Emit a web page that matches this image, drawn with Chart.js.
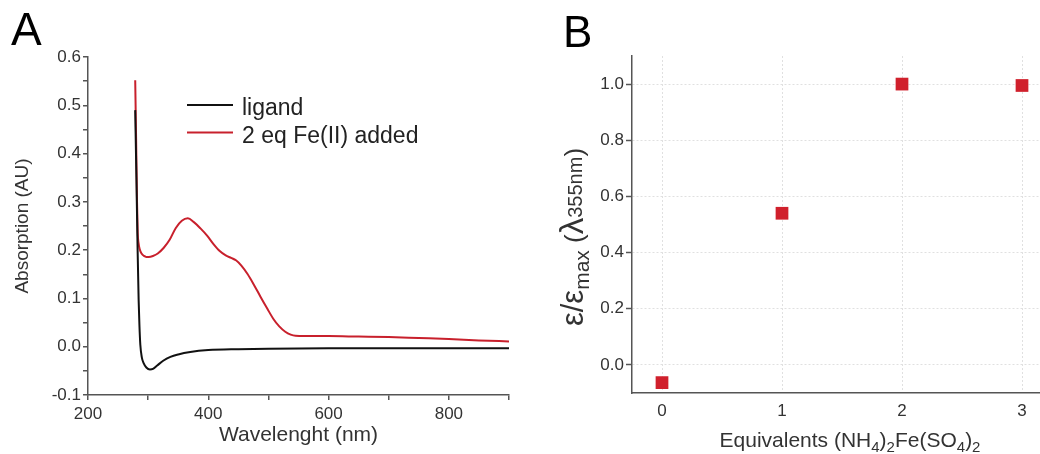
<!DOCTYPE html>
<html>
<head>
<meta charset="utf-8">
<script src="https://cdn.jsdelivr.net/npm/chart.js@4.4.0/dist/chart.umd.min.js"></script>
<style>
  body { margin: 0; background: #fff; }
  .panel { position: absolute; top: 0; width: 520px; height: 454px; }
  #panelA { left: 0; }
  #panelB { left: 520px; }
</style>
</head>
<body>
<div class="panel" id="panelA"><canvas id="spectrum" width="520" height="454"></canvas></div>
<div class="panel" id="panelB"><canvas id="titration" width="520" height="454"></canvas></div>
<script>
// panel A - UV/vis spectra
const ligandWl  = [278.5, 280.5, 282.5, 284.2, 285.5, 287, 289.5, 292.5, 297, 303, 308, 315, 325, 337, 350, 370, 400, 450, 500, 600, 700, 800, 900];
const ligandAbs = [0.49, 0.35, 0.20, 0.097, 0.045, 0.004, -0.022, -0.034, -0.043, -0.047, -0.046, -0.039, -0.029, -0.021, -0.016, -0.011, -0.007, -0.005, -0.004, -0.003, -0.003, -0.003, -0.003];

const feWl  = [278.5, 280, 281.5, 282.7, 284, 286, 289, 293, 297, 301, 308, 316, 326, 336, 346, 356, 366, 376, 387, 398, 409, 419, 429, 438, 446, 455, 465, 476, 487, 498, 508, 518, 528, 537, 545, 560, 600, 650, 700, 750, 800, 850, 900];
const feAbs = [0.552, 0.43, 0.30, 0.235, 0.215, 0.202, 0.193, 0.188, 0.186, 0.186, 0.188, 0.193, 0.205, 0.222, 0.246, 0.261, 0.266, 0.258, 0.245, 0.230, 0.212, 0.198, 0.189, 0.184, 0.179, 0.168, 0.151, 0.128, 0.103, 0.079, 0.058, 0.042, 0.031, 0.025, 0.0225, 0.022, 0.022, 0.021, 0.020, 0.018, 0.016, 0.013, 0.011];

const wlTicks  = [200, 300, 400, 500, 600, 700, 800, 900];
const absTicks = [-0.1, -0.05, 0.0, 0.05, 0.1, 0.15, 0.2, 0.25, 0.3, 0.35, 0.4, 0.45, 0.5, 0.55, 0.6];

// panel B - titration at 355 nm
const equivalents = [0, 1, 2, 3];
const epsRatio    = [-0.063, 0.54, 1.0, 0.995];
const ratioTicks  = [0.0, 0.2, 0.4, 0.6, 0.8, 1.0];

const FONT = "'Liberation Sans', Arial, sans-serif";
Chart.defaults.font.family = FONT;
Chart.defaults.color = '#333';

function drawRich(ctx, parts, x, y) {
  let total = 0;
  parts.forEach(p => {
    ctx.font = p.size + 'px ' + FONT;
    p.w = ctx.measureText(p.text).width;
    total += p.w;
  });
  let cx = x - total / 2;
  ctx.textAlign = 'left';
  ctx.textBaseline = 'alphabetic';
  parts.forEach(p => {
    ctx.font = p.size + 'px ' + FONT;
    ctx.fillText(p.text, cx, y + (p.dy || 0));
    cx += p.w;
  });
}

const panelDecor = {
  id: 'panelDecor',
  afterDraw(chart, args, opts) {
    const ctx = chart.ctx;
    ctx.save();
    ctx.fillStyle = '#000';
    ctx.font = opts.letterSize + 'px ' + FONT;
    ctx.textAlign = 'left';
    ctx.textBaseline = 'alphabetic';
    ctx.fillText(opts.letter, opts.letterX, opts.letterY);

    if (opts.legend) {
      const lg = opts.legend;
      chart.data.datasets.forEach((ds, i) => {
        const y = lg.y + i * lg.gap;
        ctx.strokeStyle = ds.borderColor;
        ctx.lineWidth = 2;
        ctx.beginPath();
        ctx.moveTo(lg.x, y);
        ctx.lineTo(lg.x + lg.len, y);
        ctx.stroke();
        ctx.fillStyle = '#222';
        ctx.font = lg.size + 'px ' + FONT;
        ctx.fillText(ds.label, lg.x + lg.len + 9, y + 10);
      });
    }

    if (opts.xTitle) {
      ctx.fillStyle = '#333';
      drawRich(ctx, opts.xTitle.parts, opts.xTitle.x, opts.xTitle.y);
    }
    if (opts.yTitle) {
      ctx.fillStyle = '#333';
      ctx.translate(opts.yTitle.x, opts.yTitle.y);
      ctx.rotate(-Math.PI / 2);
      drawRich(ctx, opts.yTitle.parts, 0, 0);
    }
    ctx.restore();
  }
};

new Chart(document.getElementById('spectrum'), {
  type: 'line',
  data: {
    datasets: [
      {
        label: 'ligand',
        data: ligandWl.map((x, i) => ({ x: x, y: ligandAbs[i] })),
        borderColor: '#111',
        borderWidth: 2,
        pointRadius: 0,
        cubicInterpolationMode: 'monotone'
      },
      {
        label: '2 eq Fe(II) added',
        data: feWl.map((x, i) => ({ x: x, y: feAbs[i] })),
        borderColor: '#c8202c',
        borderWidth: 2,
        pointRadius: 0,
        cubicInterpolationMode: 'monotone'
      }
    ]
  },
  options: {
    responsive: false,
    animation: false,
    layout: { autoPadding: false, padding: { top: 57, right: 11, left: 0, bottom: 0 } },
    plugins: {
      legend: { display: false },
      tooltip: { enabled: false },
      panelDecor: {
        letter: 'A', letterSize: 46, letterX: 11, letterY: 45,
        legend: { x: 187, y: 105, gap: 27.5, len: 46, size: 23 }
      }
    },
    scales: {
      x: {
        type: 'linear',
        min: 200,
        max: 900,
        afterBuildTicks: axis => { axis.ticks = wlTicks.map(v => ({ value: v })); },
        afterFit: axis => { axis.height = 59; },
        ticks: {
          autoSkip: false,
          maxRotation: 0,
          padding: 4,
          font: { size: 17 },
          callback: v => (v % 200 === 0 ? v : '')
        },
        grid: { drawOnChartArea: false, tickLength: 5, color: '#555', lineWidth: 1.5 },
        border: { color: '#555', width: 1.5 },
        title: { display: true, text: 'Wavelenght (nm)', font: { size: 21 }, padding: { top: 0, bottom: 6 } }
      },
      y: {
        min: -0.1,
        max: 0.6,
        afterBuildTicks: axis => { axis.ticks = absTicks.map(v => ({ value: v })); },
        afterFit: axis => { axis.width = 88; },
        ticks: {
          autoSkip: false,
          padding: 2,
          font: { size: 17 },
          callback: v => (Math.round(v * 20) % 2 === 0 ? v.toFixed(1) : '')
        },
        grid: { drawOnChartArea: false, tickLength: 5, color: '#555', lineWidth: 1.5 },
        border: { color: '#555', width: 1.5 },
        title: { display: true, text: 'Absorption (AU)', font: { size: 19 }, padding: { top: 11, bottom: 0 } }
      }
    }
  },
  plugins: [panelDecor]
});

new Chart(document.getElementById('titration'), {
  type: 'scatter',
  data: {
    datasets: [{
      label: 'ε/εmax',
      data: equivalents.map((x, i) => ({ x: x, y: epsRatio[i] })),
      pointStyle: 'rect',
      pointRadius: 9,
      backgroundColor: '#d0202c',
      borderWidth: 0
    }]
  },
  options: {
    responsive: false,
    animation: false,
    layout: { autoPadding: false, padding: { top: 56, right: 0, left: 0, bottom: 0 } },
    plugins: {
      legend: { display: false },
      tooltip: { enabled: false },
      panelDecor: {
        letter: 'B', letterSize: 44, letterX: 43, letterY: 47,
        xTitle: {
          x: 330, y: 447,
          parts: [
            { text: 'Equivalents (NH', size: 21 },
            { text: '4', size: 15, dy: 5 },
            { text: ')', size: 21 },
            { text: '2', size: 15, dy: 5 },
            { text: 'Fe(SO', size: 21 },
            { text: '4', size: 15, dy: 5 },
            { text: ')', size: 21 },
            { text: '2', size: 15, dy: 5 }
          ]
        },
        yTitle: {
          x: 63, y: 237,
          parts: [
            { text: 'ε/ε', size: 31 },
            { text: 'max', size: 21, dy: 6 },
            { text: ' (', size: 26 },
            { text: 'λ', size: 33 },
            { text: '355nm', size: 20, dy: -1 },
            { text: ')', size: 26 }
          ]
        }
      }
    },
    scales: {
      x: {
        type: 'linear',
        min: -0.25,
        max: 3.15,
        afterBuildTicks: axis => { axis.ticks = equivalents.map(v => ({ value: v })); },
        afterFit: axis => {
          axis.height = 61;
          axis.paddingLeft = 0;
          axis.paddingRight = 0;
        },
        ticks: { padding: 8, font: { size: 17 }, maxRotation: 0 },
        grid: { color: '#e0e0e0', lineWidth: 1, drawTicks: false },
        border: { color: '#555', width: 1.5, dash: [2, 2] }
      },
      y: {
        min: -0.1,
        max: 1.1,
        afterBuildTicks: axis => { axis.ticks = ratioTicks.map(v => ({ value: v })); },
        afterFit: axis => { axis.width = 112; },
        ticks: { padding: 2, font: { size: 17 }, callback: v => v.toFixed(1) },
        grid: { color: '#e0e0e0', lineWidth: 1, tickColor: '#555', tickLength: 6, tickWidth: 1.5 },
        border: { color: '#555', width: 1.5, dash: [2, 2] }
      }
    }
  },
  plugins: [panelDecor]
});
</script>
</body>
</html>
